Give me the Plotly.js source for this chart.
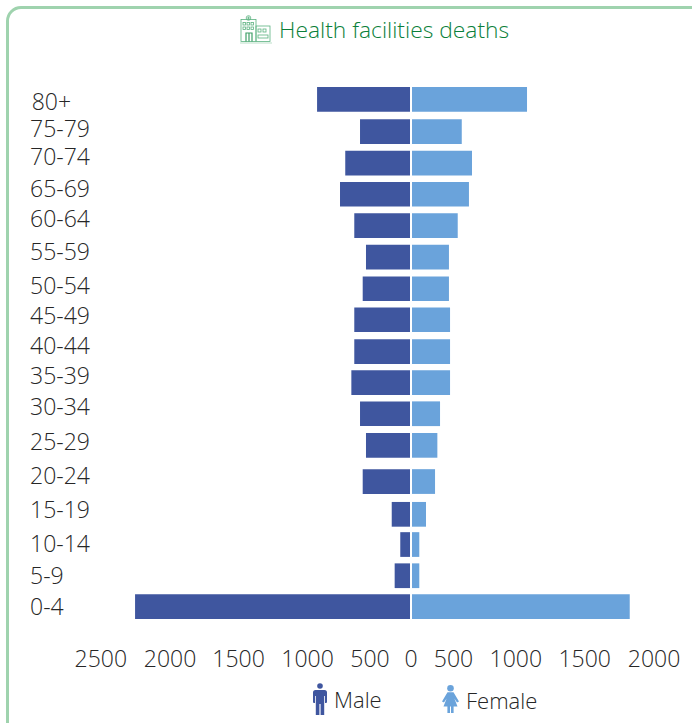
<!DOCTYPE html>
<html>
<head>
<meta charset="utf-8">
<script src="https://cdn.plot.ly/plotly-3.0.1.min.js"></script>
<style>
html,body{margin:0;padding:0;background:#fff;overflow:hidden;width:692px;height:723px}
#frame{position:absolute;left:5.5px;top:5.5px;width:720px;height:740px;border:3px solid #9fd3ae;border-radius:15px;box-sizing:border-box}
#chart{position:absolute;left:0;top:0;width:692px;height:723px}
</style>
</head>
<body>
<div id="frame"></div>
<div id="chart"></div>
<script>
const ageGroups = ['0-4','5-9','10-14','15-19','20-24','25-29','30-34','35-39','40-44','45-49','50-54','55-59','60-64','65-69','70-74','75-79','80+'];
const maleDeaths = [2262,134,88,158,396,369,418,489,465,465,396,369,465,582,539,418,770];
const femaleDeaths = [1793,68,68,123,197,216,238,320,320,320,311,311,383,475,500,416,951];
// rows as drawn in the reference: they are very slightly uneven
const barRows = [0,0.972,1.956,2.909,3.943,5.085,6.082,7.066,8.044,9.047,10.025,11.019,12.013,13.006,13.991,14.978,16];
const labelRows = [0,0.962,1.972,3.044,4.126,5.199,6.303,7.271,8.218,9.164,10.11,11.192,12.215,13.17,14.189,15.062,15.924];
const xTickText = ['2500','2000','1500','1000','500','0','500','1000','1500','2000'];
const xTickSpots = [-2543,-1975,-1414,-848,-336,0,348,859,1424,1992];

const W = 692, H = 723;
const px = v => v / W, py = v => 1 - v / H;
const FONT = 'Open Sans, sans-serif';
const INK = '#262626';
const LIGHT = 300;

function svgUri(w, h, body){
  return 'data:image/svg+xml;utf8,' + encodeURIComponent(
    `<svg xmlns="http://www.w3.org/2000/svg" width="${w}" height="${h}" viewBox="0 0 ${w} ${h}">${body}</svg>`);
}
const maleIcon = svgUri(14, 32, `<g fill="#3f569f"><circle cx="7" cy="3" r="2.8"/>
  <path d="M2.5 7H11.5Q14 7 14 9.5V19Q14 20 13 20H12V13H11.2V32H7.6V21H6.4V32H2.8V13H2V20H1Q0 20 0 19V9.5Q0 7 2.5 7Z"/></g>`);
const femaleIcon = svgUri(17, 28, `<g fill="#6aa3db"><circle cx="8.5" cy="3.3" r="3.3"/>
  <path d="M5.5 7.2H11.5L17 16.5 15 17.6 12.4 13.5 15.5 21.5H11.6V28H9V21.5H8V28H5.4V21.5H1.5L4.6 13.5 2 17.6 0 16.5Z"/></g>`);
const hospitalIcon = svgUri(32, 30, `<g fill="none" stroke="#3fa56a" stroke-width="0.8" opacity="0.85">
  <rect x="1" y="4.5" width="15" height="22"/><rect x="16" y="11" width="14" height="15.5"/>
  <circle cx="8.5" cy="3" r="2.3"/><path d="M8.5 1.5V4.5M7 3H10"/>
  <rect x="3" y="7.5" width="2.5" height="2.5"/><rect x="7" y="7.5" width="2.5" height="2.5"/><rect x="11" y="7.5" width="2.5" height="2.5"/>
  <rect x="3" y="12" width="2.5" height="2.5"/><rect x="7" y="12" width="2.5" height="2.5"/><rect x="11" y="12" width="2.5" height="2.5"/>
  <rect x="18" y="14" width="3" height="3"/><rect x="23" y="14" width="3" height="3"/>
  <rect x="18" y="20" width="10" height="3"/>
  <path d="M6 26.5V18H12V26.5M9 18V26.5" stroke-width="1.2" stroke="#1f8f4e"/>
  <path d="M0 28H32" stroke-width="0.7" opacity="0.6"/></g>`);

// pad the short labels with spaces so they start at the same left edge
const yTickText = ageGroups.map(a => a === '80+' ? a + '\u2007\u2005' : a.length === 3 ? a + '\u2007\u2007' : a);

const traces = [
  {type:'bar', orientation:'h', name:'Male', y:barRows, x:maleDeaths.map(v => -v), width:0.78,
   marker:{color:'#3f569f'}, customdata:ageGroups, hovertemplate:'%{customdata}: %{text}<extra>Male</extra>', text:maleDeaths, textposition:'none'},
  {type:'bar', orientation:'h', name:'Female', y:barRows, x:femaleDeaths, width:0.78,
   marker:{color:'#6aa3db'}, customdata:ageGroups, hovertemplate:'%{customdata}: %{x}<extra>Female</extra>'}
];

const layout = {
  width:W, height:H, paper_bgcolor:'rgba(0,0,0,0)', plot_bgcolor:'rgba(0,0,0,0)',
  margin:{l:0,r:0,t:0,b:0}, barmode:'overlay', showlegend:false,
  font:{family:FONT, color:INK},
  xaxis:{domain:[px(92),px(680)], range:[-2615,2205], tickmode:'array', tickvals:xTickSpots, ticktext:xTickText,
         showgrid:false, zeroline:false, showline:false, ticks:'outside', ticklen:8, tickcolor:'rgba(0,0,0,0)',
         tickfont:{family:FONT,size:23,weight:LIGHT,color:INK}, fixedrange:true},
  yaxis:{domain:[py(630),py(80)], range:[-0.74,16.61], tickmode:'array', tickvals:labelRows, ticktext:yTickText,
         showgrid:false, zeroline:false, showline:false, ticks:'', ticklabelstandoff:1, tickfont:{family:FONT,size:23,weight:LIGHT,color:INK}, fixedrange:true},
  shapes:[{type:'line', xref:'x', yref:'paper', x0:0, x1:0, y0:py(630), y1:py(80), layer:'above', line:{color:'#fff',width:2}}],
  annotations:[
    {xref:'paper',yref:'paper',x:px(277),y:py(30),xanchor:'left',yanchor:'middle',showarrow:false,
     text:'Health facilities deaths',font:{family:FONT,size:22.8,weight:LIGHT,color:'#0b7f3a'}},
    {xref:'paper',yref:'paper',x:px(332),y:py(699),xanchor:'left',yanchor:'middle',showarrow:false,
     text:'Male',font:{family:FONT,size:22,weight:LIGHT,color:INK}},
    {xref:'paper',yref:'paper',x:px(464),y:py(700),xanchor:'left',yanchor:'middle',showarrow:false,
     text:'Female',font:{family:FONT,size:22,weight:LIGHT,color:INK}}
  ],
  images:[
    {source:hospitalIcon,xref:'paper',yref:'paper',x:px(240),y:py(15),sizex:32/W,sizey:30/H,sizing:'stretch',xanchor:'left',yanchor:'top',layer:'above'},
    {source:maleIcon,xref:'paper',yref:'paper',x:px(313),y:py(683),sizex:14/W,sizey:32/H,sizing:'stretch',xanchor:'left',yanchor:'top',layer:'above'},
    {source:femaleIcon,xref:'paper',yref:'paper',x:px(442),y:py(685),sizex:17/W,sizey:28/H,sizing:'stretch',xanchor:'left',yanchor:'top',layer:'above'}
  ]
};
Plotly.newPlot('chart', traces, layout, {displayModeBar:false, responsive:false});
</script>
</body>
</html>
